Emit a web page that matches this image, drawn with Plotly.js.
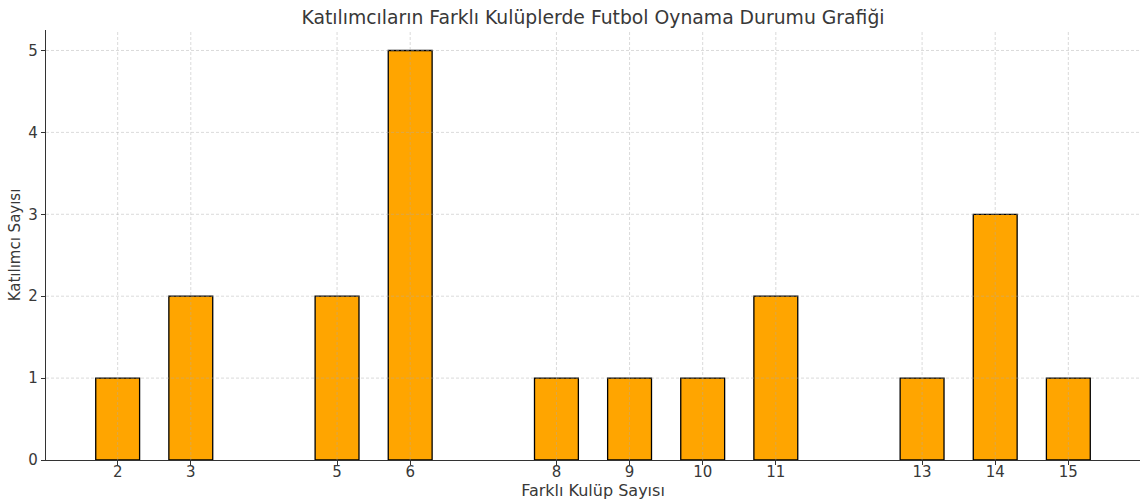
<!DOCTYPE html>
<html>
<head>
<meta charset="utf-8">
<script src="https://cdn.plot.ly/plotly-3.0.1.min.js"></script>
<style>html,body{margin:0;padding:0;background:#fff}#chart{width:1140px;height:500px}</style>
</head>
<body>
<div id="chart"></div>
<script>
const clubCounts = [2, 3, 5, 6, 8, 9, 10, 11, 13, 14, 15];
const participants = [1, 2, 2, 5, 1, 1, 1, 2, 1, 3, 1];
const tickLabels = clubCounts.map(String);
const yTickValues = [0, 1, 2, 3, 4, 5];
const chartTitle = 'Katılımcıların Farklı Kulüplerde Futbol Oynama Durumu Grafiği';
const xTitle = 'Farklı Kulüp Sayısı';
const yTitle = 'Katılımcı Sayısı';

const font = 'DejaVu Sans, sans-serif';
const textColor = '#383838';
const gridStyle = {color: 'rgba(170,170,170,0.55)', width: 0.8, dash: '3px,2px'};

const trace = {
  type: 'bar',
  x: clubCounts,
  y: participants,
  width: 0.6,
  marker: {color: '#FFA500', line: {color: '#000000', width: 1.3}},
  hoverinfo: 'x+y'
};

// grid drawn above the bars, as in the reference
const gridShapes = clubCounts.map(v => ({
  type: 'line', layer: 'above', xref: 'x', yref: 'paper',
  x0: v, x1: v, y0: 0, y1: 1, line: gridStyle
})).concat(yTickValues.filter(v => v > 0).map(v => ({
  type: 'line', layer: 'above', xref: 'paper', yref: 'y',
  x0: 0, x1: 1, y0: v, y1: v, line: gridStyle
})));

const layout = {
  width: 1140, height: 500,
  margin: {l: 46, r: 0, t: 30, b: 40},
  paper_bgcolor: '#ffffff', plot_bgcolor: '#ffffff',
  font: {family: font, color: textColor, size: 15},
  showlegend: false,
  title: {text: chartTitle, font: {family: font, size: 18.8, color: textColor},
          x: 0.5, xref: 'paper', y: 1 - 17/500, yref: 'container', yanchor: 'middle'},
  shapes: gridShapes,
  xaxis: {
    range: [1.02, 15.98],
    tickvals: clubCounts, ticktext: tickLabels,
    ticks: 'outside', ticklen: 4, tickwidth: 1, tickcolor: '#333',
    ticklabelstandoff: -6,
    showline: true, linecolor: '#333', linewidth: 1.2,
    showgrid: false,
    zeroline: false,
    tickfont: {size: 15, color: textColor},
    title: {text: xTitle, font: {size: 16, color: textColor}, standoff: 6},
    automargin: false
  },
  yaxis: {
    range: [0, 5.25],
    tickvals: yTickValues,
    ticks: 'outside', ticklen: 4, tickwidth: 1, tickcolor: '#333',
    showline: true, linecolor: '#333', linewidth: 1.2,
    showgrid: false,
    zeroline: false,
    tickfont: {size: 15, color: textColor},
    title: {text: yTitle, font: {size: 15, color: textColor}, standoff: 4},
    automargin: false
  }
};

Plotly.newPlot('chart', [trace], layout, {displayModeBar: false, staticPlot: true});
</script>
</body>
</html>
